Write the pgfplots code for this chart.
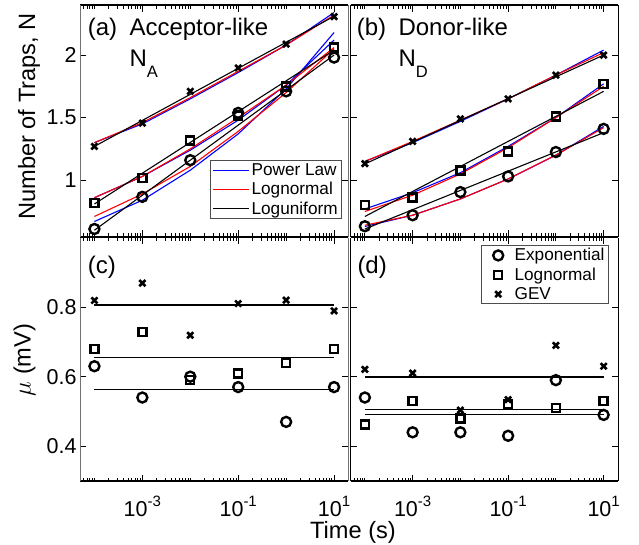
\documentclass[border=0pt]{standalone}
\usepackage{fontspec}
\setmainfont{Liberation Sans}
\usepackage{pgfplots}
\pgfplotsset{compat=1.18}

\pgfplotsset{
  mypanel/.style={
    scale only axis, anchor=north west,
    xmin=5e-5, xmax=20,
    xtick={1e-3,1e-1,1e1},
    minor xtick={6e-5,7e-5,8e-5,9e-5,1e-4,2e-4,3e-4,4e-4,5e-4,6e-4,7e-4,8e-4,9e-4,2e-3,3e-3,4e-3,5e-3,6e-3,7e-3,8e-3,9e-3,1e-2,2e-2,3e-2,4e-2,5e-2,6e-2,7e-2,8e-2,9e-2,2e-1,3e-1,4e-1,5e-1,6e-1,7e-1,8e-1,9e-1,1,2,3,4,5,6,7,8,9},
    tick align=inside,
    major tick length=6.5pt, minor tick length=3.5pt,
    tick style={black, line width=0.8pt},
    separate axis lines,
    x axis line style={black, line width=1.2pt},
    y axis line style={black, line width=0.8pt},
    ticklabel style={font=\fontsize{21.5}{21.5}\selectfont},
    xticklabel style={anchor=base, inner sep=0pt, yshift=-35pt},
    clip=false,
  },
  myleft/.style={width=268.5pt, y axis line style={black!55, line width=0.8pt}},
  myright/.style={width=267.5pt, yticklabels={}},
  mytop/.style={height=231.5pt, ymin=0.55, ymax=2.4, ytick={1,1.5,2}, xticklabels={}},
  mybot/.style={height=243.5pt, ymin=0.3, ymax=1.0, ytick={0.4,0.6,0.8},
    xticklabels={10\raisebox{10pt}{\fontsize{15}{15}\selectfont -3},
                 10\raisebox{10pt}{\fontsize{15}{15}\selectfont -1},
                 10\raisebox{10pt}{\fontsize{15}{15}\selectfont 1}}},
  fitpl/.style={blue, line width=1.1pt, forget plot},
  fitln/.style={red, line width=1.1pt, forget plot},
  fitlu/.style={black, line width=1.1pt, forget plot},
  mkO/.style={only marks, black, line width=2.4pt, mark=o, mark size=5pt,
    mark options={solid, draw=black, line width=2.4pt}, forget plot},
  mkS/.style={only marks, black, line width=2.4pt, mark=square, mark size=4pt,
    mark options={solid, draw=black, line width=2.4pt}, forget plot},
  mkX/.style={only marks, black, line width=2.6pt, mark=x, mark size=4.3pt,
    mark options={solid, draw=black, line width=2.6pt}, forget plot},
  meanline/.style={black, line width=1.1pt, forget plot},
}

\newcommand{\tx}{\fontsize{24}{24}\selectfont}

\begin{document}
\begin{tikzpicture}
\useasboundingbox (0pt,0pt) rectangle (639pt,-544pt);

% (a) acceptor-like
\begin{semilogxaxis}[mypanel, myleft, mytop, at={(80pt,-5pt)},
  yticklabels={1,1.5,2},
  legend style={at={(0.976,0.330)}, anchor=north east,
    font=\fontsize{17.2}{19}\selectfont, draw=black!70, line width=0.8pt,
    cells={anchor=west}, inner xsep=2pt, inner ysep=1pt, row sep=1.5pt},
  legend image code/.code={\draw[#1] (0pt,0pt) -- (36pt,0pt);},
  ]
\addlegendimage{blue, line width=1.1pt}\addlegendentry{Power Law}
\addlegendimage{red, line width=1.1pt}\addlegendentry{Lognormal}
\addlegendimage{black, line width=1.1pt}\addlegendentry{Loguniform}
\addplot[fitpl] coordinates {(1e-4,1.30)(1e-3,1.45)(1e-2,1.65)(1e-1,1.86)(1,2.08)(10,2.34)};
\addplot[fitpl] coordinates {(1e-4,0.86)(1e-3,1.03)(1e-2,1.24)(1e-1,1.48)(1,1.76)(10,2.12)};
\addplot[fitpl] coordinates {(1e-4,0.67)(1e-3,0.84)(1e-2,1.08)(1e-1,1.37)(1,1.73)(10,2.18)};
\addplot[fitln] coordinates {(1e-4,1.30)(1e-3,1.46)(1e-2,1.66)(1e-1,1.87)(1,2.08)(10,2.32)};
\addplot[fitln] coordinates {(1e-4,0.86)(1e-3,1.03)(1e-2,1.25)(1e-1,1.50)(1,1.76)(10,2.06)};
\addplot[fitln] coordinates {(1e-4,0.71)(1e-3,0.89)(1e-2,1.11)(1e-1,1.39)(1,1.70)(10,2.05)};
\addplot[fitlu] coordinates {(1e-4,1.27)(10,2.31)};
\addplot[fitlu] coordinates {(1e-4,0.81)(10,2.04)};
\addplot[fitlu] coordinates {(1e-4,0.60)(10,2.00)};
\addplot[mkX] coordinates {(1e-4,1.27)(1e-3,1.456)(1e-2,1.71)(1e-1,1.897)(1,2.087)(10,2.307)};
\addplot[mkS] coordinates {(1e-4,0.82)(1e-3,1.018)(1e-2,1.318)(1e-1,1.517)(1,1.75)(10,2.06)};
\addplot[mkO] coordinates {(1e-4,0.61)(1e-3,0.867)(1e-2,1.16)(1e-1,1.538)(1,1.71)(10,1.98)};
\end{semilogxaxis}

% (b) donor-like
\begin{semilogxaxis}[mypanel, myright, mytop, at={(350.5pt,-5pt)}]
\addplot[fitpl] coordinates {(1e-4,1.15)(1e-3,1.30)(1e-2,1.47)(1e-1,1.65)(1,1.84)(10,2.04)};
\addplot[fitpl] coordinates {(1e-4,0.77)(1e-3,0.90)(1e-2,1.06)(1e-1,1.27)(1,1.50)(10,1.77)};
\addplot[fitpl] coordinates {(1e-4,0.63)(1e-3,0.72)(1e-2,0.85)(1e-1,1.01)(1,1.20)(10,1.43)};
\addplot[fitln] coordinates {(1e-4,1.15)(1e-3,1.31)(1e-2,1.48)(1e-1,1.65)(1,1.84)(10,2.02)};
\addplot[fitln] coordinates {(1e-4,0.75)(1e-3,0.88)(1e-2,1.05)(1e-1,1.26)(1,1.50)(10,1.75)};
\addplot[fitln] coordinates {(1e-4,0.64)(1e-3,0.72)(1e-2,0.85)(1e-1,1.01)(1,1.20)(10,1.42)};
\addplot[fitlu] coordinates {(1e-4,1.13)(10,2.00)};
\addplot[fitlu] coordinates {(1e-4,0.71)(10,1.71)};
\addplot[fitlu] coordinates {(1e-4,0.61)(10,1.38)};
\addplot[mkX] coordinates {(1e-4,1.133)(1e-3,1.31)(1e-2,1.49)(1e-1,1.65)(1,1.84)(10,2.00)};
\addplot[mkS] coordinates {(1e-4,0.80)(1e-3,0.862)(1e-2,1.077)(1e-1,1.23)(1,1.51)(10,1.77)};
\addplot[mkO] coordinates {(1e-4,0.632)(1e-3,0.72)(1e-2,0.905)(1e-1,1.03)(1,1.225)(10,1.41)};
\end{semilogxaxis}

% (c) acceptor-like mu
\begin{semilogxaxis}[mypanel, myleft, mybot, at={(80pt,-237.5pt)},
  yticklabels={0.4,0.6,0.8}]
\addplot[meanline] coordinates {(1e-4,0.806)(10,0.806)};
\addplot[meanline] coordinates {(1e-4,0.655)(10,0.655)};
\addplot[meanline] coordinates {(1e-4,0.563)(10,0.563)};
\addplot[mkO] coordinates {(1e-4,0.63)(1e-3,0.54)(1e-2,0.60)(1e-1,0.57)(1,0.47)(10,0.57)};
\addplot[mkS] coordinates {(1e-4,0.68)(1e-3,0.729)(1e-2,0.59)(1e-1,0.609)(1,0.64)(10,0.68)};
\addplot[mkX] coordinates {(1e-4,0.819)(1e-3,0.869)(1e-2,0.719)(1e-1,0.81)(1,0.82)(10,0.789)};
\end{semilogxaxis}

% (d) donor-like mu
\begin{semilogxaxis}[mypanel, myright, mybot, at={(350.5pt,-237.5pt)},
  legend style={at={(0.966,0.969)}, anchor=north east,
    font=\fontsize{17.2}{19}\selectfont, draw=black!70, line width=0.8pt,
    cells={anchor=west}, inner xsep=2pt, inner ysep=1pt, row sep=1.5pt},
  legend image code/.code={\path (-8pt,0pt) (20pt,0pt);
    \draw[#1, mark repeat=2, mark phase=2] plot coordinates {(0pt,0pt)(6pt,0pt)(12pt,0pt)};},
  ]
\addlegendimage{only marks, black, mark=o, mark size=5pt, mark options={solid, line width=2.4pt}}\addlegendentry{Exponential}
\addlegendimage{only marks, black, mark=square, mark size=4pt, mark options={solid, line width=2.4pt}}\addlegendentry{Lognormal}
\addlegendimage{only marks, black, mark=x, mark size=4.3pt, mark options={solid, line width=2.6pt}}\addlegendentry{GEV}
\addplot[meanline] coordinates {(1e-4,0.599)(10,0.599)};
\addplot[meanline] coordinates {(1e-4,0.506)(10,0.506)};
\addplot[meanline] coordinates {(1e-4,0.491)(10,0.491)};
\addplot[mkO] coordinates {(1e-4,0.54)(1e-3,0.44)(1e-2,0.44)(1e-1,0.43)(1,0.59)(10,0.49)};
\addplot[mkS] coordinates {(1e-4,0.463)(1e-3,0.53)(1e-2,0.48)(1e-1,0.52)(1,0.51)(10,0.53)};
\addplot[mkX] coordinates {(1e-4,0.621)(1e-3,0.61)(1e-2,0.504)(1e-1,0.534)(1,0.69)(10,0.63)};
\end{semilogxaxis}

% panel annotations
\node[anchor=base west, inner sep=0pt] at (87.7pt,-35pt) {\tx (a)};
\node[anchor=base west, inner sep=0pt] at (129.3pt,-35pt) {\tx Acceptor-like};
\node[anchor=base west, inner sep=0pt] at (129.3pt,-66.7pt) {\tx N\raisebox{-11pt}{\fontsize{16.5}{16.5}\selectfont A}};
\node[anchor=base west, inner sep=0pt] at (356.7pt,-35pt) {\tx (b)};
\node[anchor=base west, inner sep=0pt] at (398.3pt,-35pt) {\tx Donor-like};
\node[anchor=base west, inner sep=0pt] at (398.3pt,-66.7pt) {\tx N\raisebox{-11pt}{\fontsize{16.5}{16.5}\selectfont D}};
\node[anchor=base west, inner sep=0pt] at (87.7pt,-273.3pt) {\tx (c)};
\node[anchor=base west, inner sep=0pt] at (357.3pt,-273.3pt) {\tx (d)};

% axis labels
\node[rotate=90, anchor=base, inner sep=0pt] at (35pt,-116.5pt) {\fontsize{23.6}{23.6}\selectfont Number of Traps, N};
\node[rotate=90, anchor=base, inner sep=0pt] at (30.5pt,-360pt) {\fontsize{23.6}{23.6}\selectfont $\mu$ (mV)};
\node[anchor=base, inner sep=0pt] at (353pt,-538.5pt) {\fontsize{23.6}{23.6}\selectfont Time (s)};
\end{tikzpicture}
\end{document}
